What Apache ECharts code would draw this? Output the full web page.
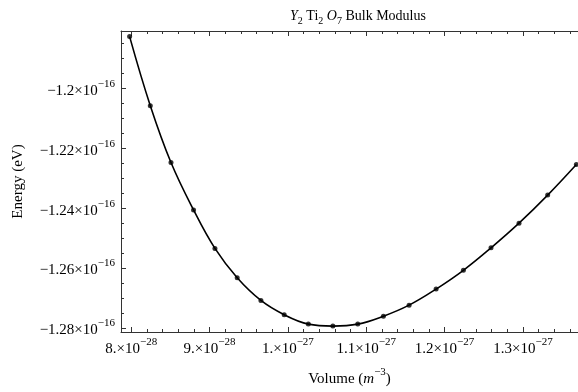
<!DOCTYPE html>
<html>
<head>
<meta charset="utf-8">
<script src="https://cdn.jsdelivr.net/npm/echarts@6/dist/echarts.min.js"></script>
<style>html,body{margin:0;padding:0;background:#fff}#c{width:578px;height:392px}</style>
</head>
<body>
<div id="c"></div>
<script>
// Volume in units of 1e-27 m^3
var volume = [0.7980, 0.8244, 0.8508, 0.8796, 0.9069, 0.9353, 0.9656, 0.9953, 1.0261, 1.0574,
              1.0892, 1.1219, 1.1547, 1.1892, 1.2240, 1.2593, 1.2950, 1.3316, 1.3682];
// Energy in units of 1e-16 eV
var energy = [-1.18264, -1.20574, -1.22475, -1.24059, -1.25347, -1.26327, -1.27086, -1.27564, -1.27878, -1.27944,
              -1.27878, -1.27614, -1.27244, -1.26706, -1.26079, -1.25327, -1.24502, -1.23564, -1.22541];

var xTickValues = [0.8, 0.9, 1.0, 1.1, 1.2, 1.3];
var xTickMantissa = ['8.', '9.', '1.', '1.1', '1.2', '1.3'];
var xTickExponent = ['\u221228', '\u221228', '\u221227', '\u221227', '\u221227', '\u221227'];
var xMinorTicks = [];
for (var i = 0; i <= 30; i++) { var v = Math.round((0.78 + i * 0.02) * 1000) / 1000; if (v > 0.787 && v < 1.3703 && xTickValues.indexOf(v) < 0) xMinorTicks.push(v); }

var yTickValues = [-1.28, -1.26, -1.24, -1.22, -1.2];
var yTickMantissa = ['\u22121.28', '\u22121.26', '\u22121.24', '\u22121.22', '\u22121.2'];
var yTickExponent = ['\u221216', '\u221216', '\u221216', '\u221216', '\u221216'];
var yMinorTicks = [];
for (var j = 0; j <= 20; j++) { var w = Math.round((-1.28 + j * 0.005) * 1000) / 1000; if (w < -1.1808 && yTickValues.indexOf(w) < 0) yMinorTicks.push(w); }

var XMIN = 0.7870, XMAX = 1.3703, YMIN = -1.28142, YMAX = -1.18076;
var FONT = 'Liberation Serif';

function findIdx(arr, v) { for (var k = 0; k < arr.length; k++) if (Math.abs(arr[k] - v) < 1e-6) return k; return -1; }

var supRich = {
  b: { fontFamily: FONT, fontSize: 15, color: '#000', lineHeight: 20, verticalAlign: 'bottom' },
  s: { fontFamily: FONT, fontSize: 11, color: '#000', lineHeight: 11, verticalAlign: 'top' }
};

var frameLine = { show: true, lineStyle: { color: '#333', width: 1 } };

function xAxisDef(pos, major, labels) {
  return {
    type: 'value', position: pos, min: XMIN, max: XMAX,
    axisLine: major ? frameLine : { show: false },
    axisTick: { show: true, inside: true, length: major ? 5 : 3, lineStyle: { color: '#333', width: 1 },
                customValues: major ? xTickValues : xMinorTicks },
    axisLabel: labels ? {
      show: true, margin: 5, customValues: xTickValues,
      formatter: function (v) { var k = findIdx(xTickValues, v); return '{b|' + xTickMantissa[k] + '\u00d710}{s|' + xTickExponent[k] + '}'; },
      rich: supRich
    } : { show: false },
    splitLine: { show: false }
  };
}
function yAxisDef(major, labels) {
  return {
    type: 'value', position: 'left', min: YMIN, max: YMAX,
    axisLine: major ? frameLine : { show: false },
    axisTick: { show: true, inside: true, length: major ? 5 : 3, lineStyle: { color: '#333', width: 1 },
                customValues: major ? yTickValues : yMinorTicks },
    axisLabel: labels ? {
      show: true, margin: 6, customValues: yTickValues,
      formatter: function (v) { var k = findIdx(yTickValues, v); return '{b|' + yTickMantissa[k] + '\u00d710}{s|' + yTickExponent[k] + '}'; },
      rich: supRich
    } : { show: false },
    splitLine: { show: false }
  };
}

var pts = volume.map(function (x, i) { return [x, energy[i]]; });

var chart = echarts.init(document.getElementById('c'));
chart.setOption({
  animation: false,
  backgroundColor: '#fff',
  title: {
    text: '{i|Y}{sb|2}{n| Ti}{sb|2}{i| O}{sb|7}{n| Bulk Modulus}',
    left: 353, top: 4, textAlign: 'center',
    textStyle: {
      fontWeight: 'normal',
      rich: {
        n: { fontFamily: FONT, fontSize: 14, fontWeight: 'normal', color: '#000', lineHeight: 17, verticalAlign: 'top' },
        i: { fontFamily: FONT, fontSize: 14, fontWeight: 'normal', fontStyle: 'italic', color: '#000', lineHeight: 17, verticalAlign: 'top' },
        sb: { fontFamily: FONT, fontSize: 10, fontWeight: 'normal', color: '#000', lineHeight: 10, verticalAlign: 'bottom' }
      }
    }
  },
  grid: { left: 121, right: 0, top: 31, bottom: 56, containLabel: false },
  xAxis: [
    Object.assign(xAxisDef('bottom', true, true), {
      name: '{n|Volume (}{i|m}{s|\u22123}{n|)}', nameLocation: 'middle', nameGap: 35,
      nameTextStyle: { rich: {
        n: { fontFamily: FONT, fontSize: 15, color: '#000', lineHeight: 20, verticalAlign: 'bottom' },
        i: { fontFamily: FONT, fontSize: 15, fontStyle: 'italic', color: '#000', lineHeight: 20, verticalAlign: 'bottom' },
        s: { fontFamily: FONT, fontSize: 11, color: '#000', lineHeight: 11, verticalAlign: 'top' }
      } }
    }),
    xAxisDef('bottom', false, false),
    xAxisDef('top', true, false),
    xAxisDef('top', false, false)
  ],
  yAxis: [
    Object.assign(yAxisDef(true, true), {
      name: 'Energy (eV)', nameLocation: 'middle', nameGap: 95, nameRotate: 90,
      nameTextStyle: { fontFamily: FONT, fontSize: 15, color: '#000' }
    }),
    yAxisDef(false, false)
  ],
  series: [
    { type: 'line', data: pts, smooth: 0.4, showSymbol: false, symbol: 'none',
      lineStyle: { color: '#000', width: 1.6 }, z: 2, clip: true },
    { type: 'scatter', data: pts, symbol: 'circle', symbolSize: 5,
      itemStyle: { color: '#000' }, z: 3 }
  ]
});
</script>
</body>
</html>
